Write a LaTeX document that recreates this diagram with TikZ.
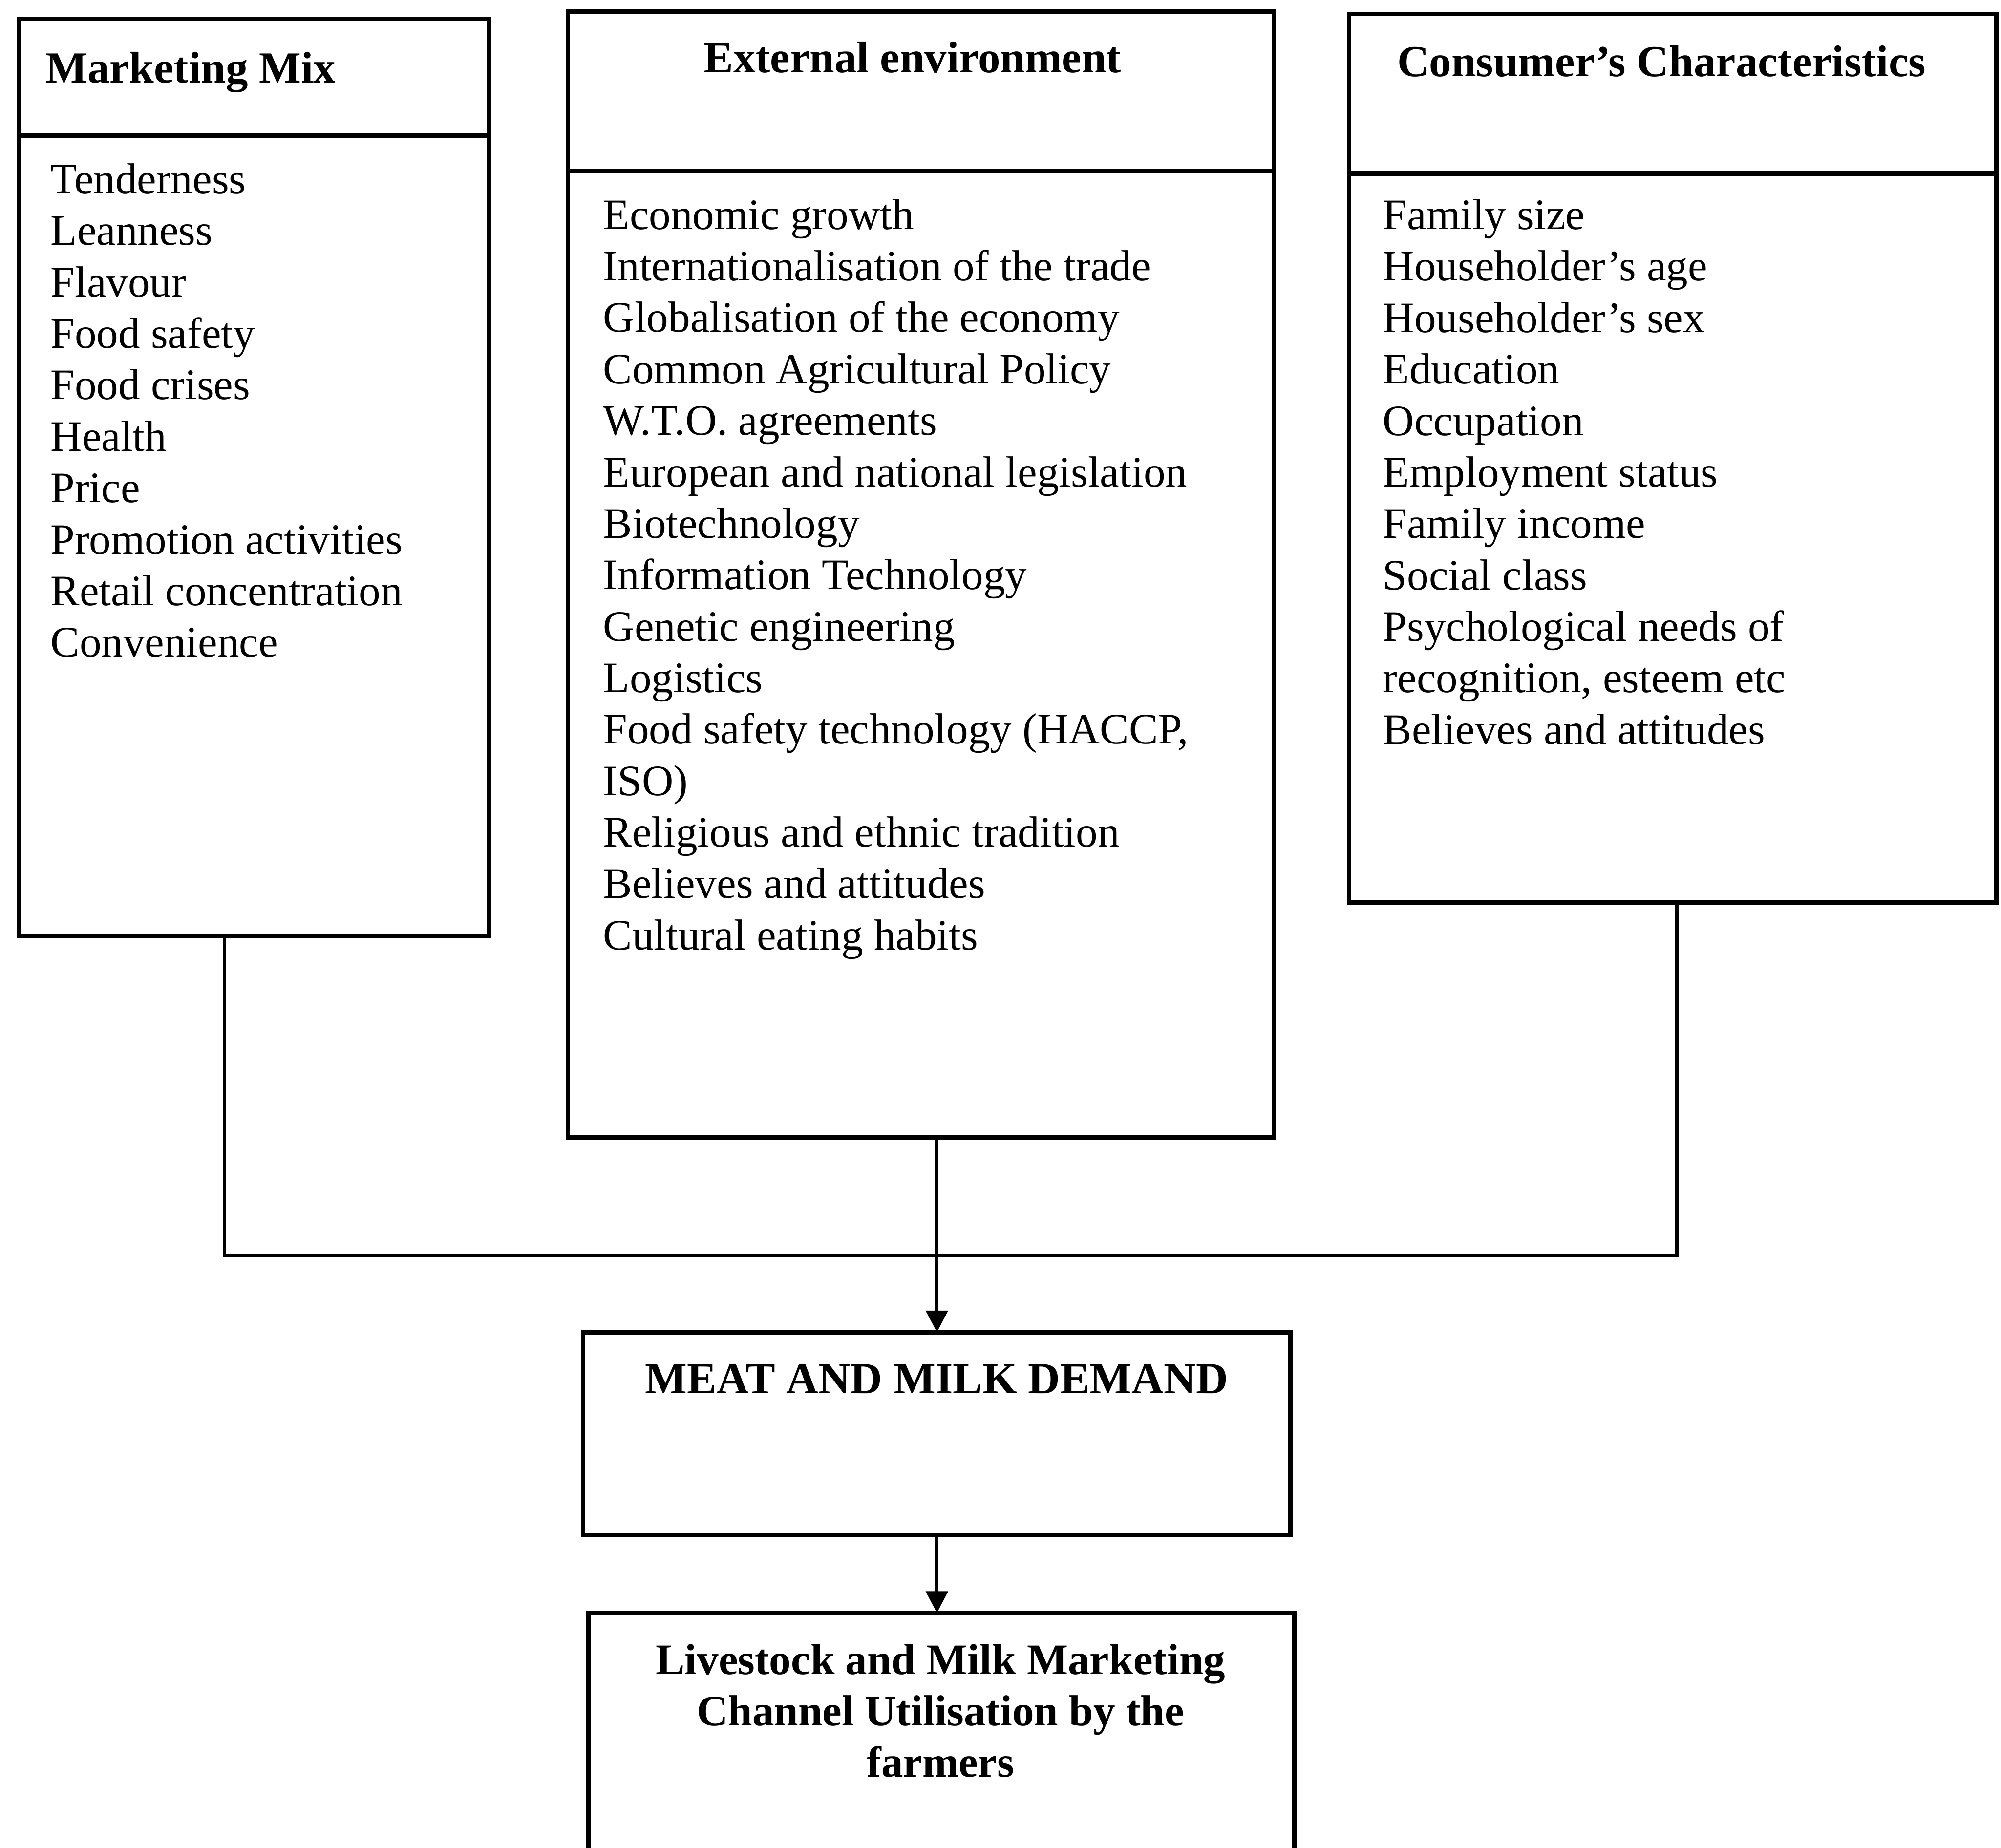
\documentclass[tikz,border=0pt]{standalone}
\usepackage{fontspec}
\setmainfont{Liberation Serif}
\usetikzlibrary{arrows.meta,calc}
\begin{document}
\begin{tikzpicture}[x=0.01cm,y=-0.01cm,
  frame/.style={draw,line width=1pt,rectangle,inner sep=0pt,outer sep=0pt,anchor=north west},
  head/.style={font=\fontsize{9.9}{11.5}\selectfont\bfseries,inner sep=0pt},
  items/.style={font=\fontsize{9.7}{11.47}\selectfont,inner sep=0pt,anchor=base west,align=left},
  rule/.style={line width=1pt},
  link/.style={line width=0.8pt},
  flow/.style={line width=0.8pt,-{Triangle[length=0.17cm,width=0.17cm]}}]
\useasboundingbox (0,0) rectangle (1568,1448);
\clip (0,0) rectangle (1568,1448);

% three factor boxes with a title strip
\node[frame,minimum width=3.68cm,minimum height=7.18cm] (mm) at (15,15) {};
\node[frame,minimum width=5.53cm,minimum height=8.82cm] (ee) at (445,9) {};
\node[frame,minimum width=5.07cm,minimum height=6.96cm] (cc) at (1057,11) {};
\draw[rule] ($(mm.north west)+(0,91)$) -- ($(mm.north east)+(0,91)$);
\draw[rule] ($(ee.north west)+(0,125)$) -- ($(ee.north east)+(0,125)$);
\draw[rule] ($(cc.north west)+(0,125)$) -- ($(cc.north east)+(0,125)$);

\node[head,anchor=base west] (mmhead) at (35,65) {Marketing Mix};
\node[head,anchor=base] (eehead) at (715,57) {External environment};
\node[head,anchor=base] (cchead) at (1302,60) {Consumer’s Characteristics};

% lists are placed by the baseline of their last line
\node[items] (mmlist) at (39,514.8) {Tenderness\\Leanness\\Flavour\\Food safety\\Food crises\\Health\\Price\\Promotion activities\\Retail concentration\\Convenience};
\node[items] (eelist) at (472,744.3) {Economic growth\\Internationalisation of the trade\\Globalisation of the economy\\Common Agricultural Policy\\W.T.O. agreements\\European and national legislation\\Biotechnology\\Information Technology\\Genetic engineering\\Logistics\\Food safety technology (HACCP,\\ISO)\\Religious and ethnic tradition\\Believes and attitudes\\Cultural eating habits};
\node[items] (cclist) at (1083,583.1) {Family size\\Householder’s age\\Householder’s sex\\Education\\Occupation\\Employment status\\Family income\\Social class\\Psychological needs of\\recognition, esteem etc\\Believes and attitudes};

% outcome boxes
\node[frame,minimum width=5.54cm,minimum height=1.59cm] (meat) at (457,1044) {};
\node[head,anchor=base] (meathead) at (734,1092) {MEAT AND MILK DEMAND};
\node[frame,minimum width=5.53cm,minimum height=3.00cm] (liv) at (461,1264) {};
\node[head,anchor=base,align=center,font=\fontsize{9.7}{11.47}\selectfont\bfseries] (livhead) at (737,1392.6) {Livestock and Milk Marketing\\Channel Utilisation by the\\farmers};

% connectors
\coordinate (bus) at (733,984);
\coordinate (mmout) at ($(mm.south west)+(161,0)$);
\coordinate (ccout) at ($(cc.south west)+(257,0)$);
\draw[link] (mmout) -- (mmout |- bus) -- (ccout |- bus) -- (ccout);
\draw[flow] (meat.north |- ee.south) -- (meat.north);
\draw[flow] (meat.south) -- (meat.south |- liv.north);
\end{tikzpicture}
\end{document}
